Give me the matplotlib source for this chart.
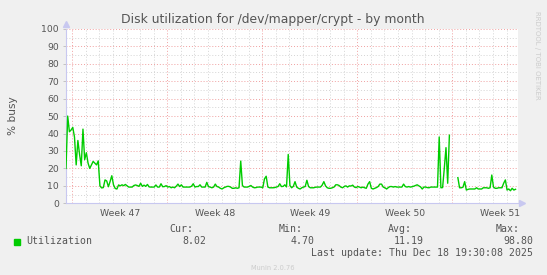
import numpy as np
import matplotlib
matplotlib.use("Agg")
import matplotlib.pyplot as plt
from matplotlib.patches import Rectangle

# disk utilization (% busy), one sample every 3 hours, NaN = no data
busy = [
    20, 50, 41, 42, 43.5, 38, 22, 36, 28, 21.5, 42.5, 25, 29, 23, 20, 22, 24, 23, 22, 24.3,
    10, 8.8, 9, 13.4, 12.8, 9.5, 12.5, 15.8, 10.6, 8.5, 8.2, 10.5, 10, 10.6, 10.1, 10.8, 10, 9.3, 9.3, 9.3,
    10.2, 10.5, 10.2, 9.7, 11.5, 9.7, 10.4, 9.7, 10.8, 9.4, 9.3, 9.3, 9.3, 10.5, 9.3, 9.3,
    11.2, 9.5, 9.6, 10.1, 9.3, 9.6, 8.9, 9.3, 8.9, 9.8, 11, 9.6, 10.6, 9.3, 9.3, 9.3, 9.3, 9.3, 9.8, 11.2,
    9.3, 9.6, 9.6, 10.6, 9.3, 9.3, 9.3, 12, 9.5, 9.3, 8.9, 9.3, 11, 9.6, 9.3, 8.6, 8.2, 8.9, 9.3, 9.7,
    9.7, 9.3, 8.6, 8.6, 8.9, 8.6, 8.9, 24.2, 10.2, 9.3, 9.3, 9.3, 9.7, 10.2, 9.3, 8.9,
    9.0, 9.3, 9.3, 9.3, 8.9, 14, 15.5, 9.3, 8.9, 8.9, 8.9, 9.0, 9.3, 9.6, 11.2, 9.6, 9.7, 10.6, 9.4, 28,
    10.2, 8.9, 9.7, 12.4, 9.3, 8.6, 8.2, 8.9, 9.3, 9.6, 13.2, 9.6, 8.9, 8.9, 8.9, 9.2, 9.3, 9.3, 9.3, 10.4,
    12.4, 10.0, 8.9, 8.6, 8.6, 8.9, 9.3, 10.6, 10.6, 10.2, 9.3, 8.9, 9.6, 10.0, 9.3, 10.0,
    9.9, 10.4, 9.3, 9.0, 9.6, 9.3, 8.9, 9.3, 8.9, 8.6, 11, 12.4, 8.6, 8.2, 8.6, 9.0, 9.6, 11, 11, 9.3,
    8.9, 8.2, 9.0, 9.6, 9.6, 9.3, 9.6, 9.3, 9.3, 9.3, 9.3, 11, 9.6, 9.3, 9.6, 9.3, 9.5, 9.8, 10.2, 10.6,
    10.0, 9.4, 8.2, 9.3, 9.3, 9.0, 8.9, 9.3, 9.3, 9.3, 9.3, 9.3, 38, 8.9, 9.0, 20, 31.9, 11.5, 39,
    np.nan, np.nan, np.nan, np.nan,
    14.7, 8.9, 8.9, 9.2, 12.4, 7.6, 8.0, 8.2, 8.2, 8.2, 8.2, 8.9, 8.2, 8.2, 8.2, 8.9, 8.9, 8.9, 8.6, 8.9,
    16.2, 9.3, 8.6, 8.6, 8.9, 8.9, 8.9, 11.5, 13.4, 7.6, 8.2, 7.2, 8.6, 7.6, 8.02,
]
start_day = -0.464     # days relative to Monday of week 47
step_day = 0.125
end_day = 32.82

weeks = ["Week 47", "Week 48", "Week 49", "Week 50", "Week 51"]
stat_names = ["Cur:", "Min:", "Avg:", "Max:"]
stat_values = ["8.02", "4.70", "11.19", "98.80"]
last_update = "Last update: Thu Dec 18 19:30:08 2025"

days = start_day + step_day * np.arange(len(busy))

W, H = 547, 275
fig = plt.figure(figsize=(W / 100, H / 100), dpi=100, facecolor="#F0F0F0")
ax = fig.add_axes([66 / W, 71.7 / H, 451.7 / W, 174.5 / H])
ax.set_facecolor("white")

# grid, rrdtool style
for d in range(0, 33):
    if d % 7 == 0:
        ax.axvline(d, color="#F0A0A0", lw=0.7, ls=(0, (1, 2)), zorder=1)
    else:
        ax.axvline(d, color="#D4D4D4", lw=0.7, ls=(0, (1, 2)), zorder=1)
for v in range(5, 101, 5):
    if v % 10 == 0:
        ax.axhline(v, color="#F0A0A0", lw=0.7, ls=(0, (1, 2)), zorder=1)
    else:
        ax.axhline(v, color="#D4D4D4", lw=0.7, ls=(0, (1, 2)), zorder=1)

ax.plot(days, busy, color="#00CC00", lw=1.0, zorder=3)

ax.set_xlim(start_day, end_day)
ax.set_ylim(0, 100)

ax.set_yticks(range(0, 101, 10))
ax.set_xticks([3.5 + 7 * k for k in range(len(weeks))])
ax.set_xticklabels(weeks)
ax.tick_params(axis="y", length=2, width=0.6, color="#BBBBBB", pad=3,
               labelsize=6.7, labelcolor="#555555")
ax.tick_params(axis="x", length=0, pad=4, labelsize=6.7, labelcolor="#555555")

for s in ["top", "right"]:
    ax.spines[s].set_visible(False)
ax.spines["left"].set_color("#C8C8F0")
ax.spines["bottom"].set_color("#C8C8F0")
ax.spines["left"].set_linewidth(0.8)
ax.spines["bottom"].set_linewidth(0.8)
# arrows on the axes
ax.plot([0], [1.025], marker="^", ms=4, color="#C8C8F0", transform=ax.transAxes, clip_on=False)
ax.plot([1.01], [0], marker=">", ms=4, color="#C8C8F0", transform=ax.transAxes, clip_on=False)

ax.set_ylabel("% busy", fontsize=7.6, color="#555555", labelpad=17)

fig.text(272.5 / W, 1 - 19.5 / H, "Disk utilization for /dev/mapper/crypt - by month",
         ha="center", va="center", fontsize=8.9, color="#555555")
fig.text(537 / W, 1 - 55 / H, "RRDTOOL / TOBI OETIKER", rotation=270,
         ha="center", va="center", fontsize=5.0, color="#CCCCCC")

# legend block
mono = "DejaVu Sans Mono"
fig.add_artist(Rectangle((14 / W, 1 - 244.5 / H), 5.5 / W, 5.5 / H,
                         transform=fig.transFigure, color="#00CC00"))
fig.text(26 / W, 1 - 241 / H, "Utilization", family=mono, fontsize=7.1,
         color="#555555", ha="left", va="center")
name_right = [193.6, 302.5, 411.7, 520]
val_right = [206, 315, 424, 533]
for k in range(len(stat_names)):
    fig.text(name_right[k] / W, 1 - 229 / H, stat_names[k], family=mono, fontsize=7.1,
             color="#555555", ha="right", va="center")
    fig.text(val_right[k] / W, 1 - 241 / H, stat_values[k], family=mono, fontsize=7.1,
             color="#555555", ha="right", va="center")
fig.text(533 / W, 1 - 253 / H, last_update, family=mono, fontsize=7.1,
         color="#555555", ha="right", va="center")
fig.text(273 / W, 1 - 268 / H, "Munin 2.0.76", fontsize=4.8, color="#CCCCCC",
         ha="center", va="center")

fig.savefig("out.png", dpi=100, facecolor=fig.get_facecolor())
